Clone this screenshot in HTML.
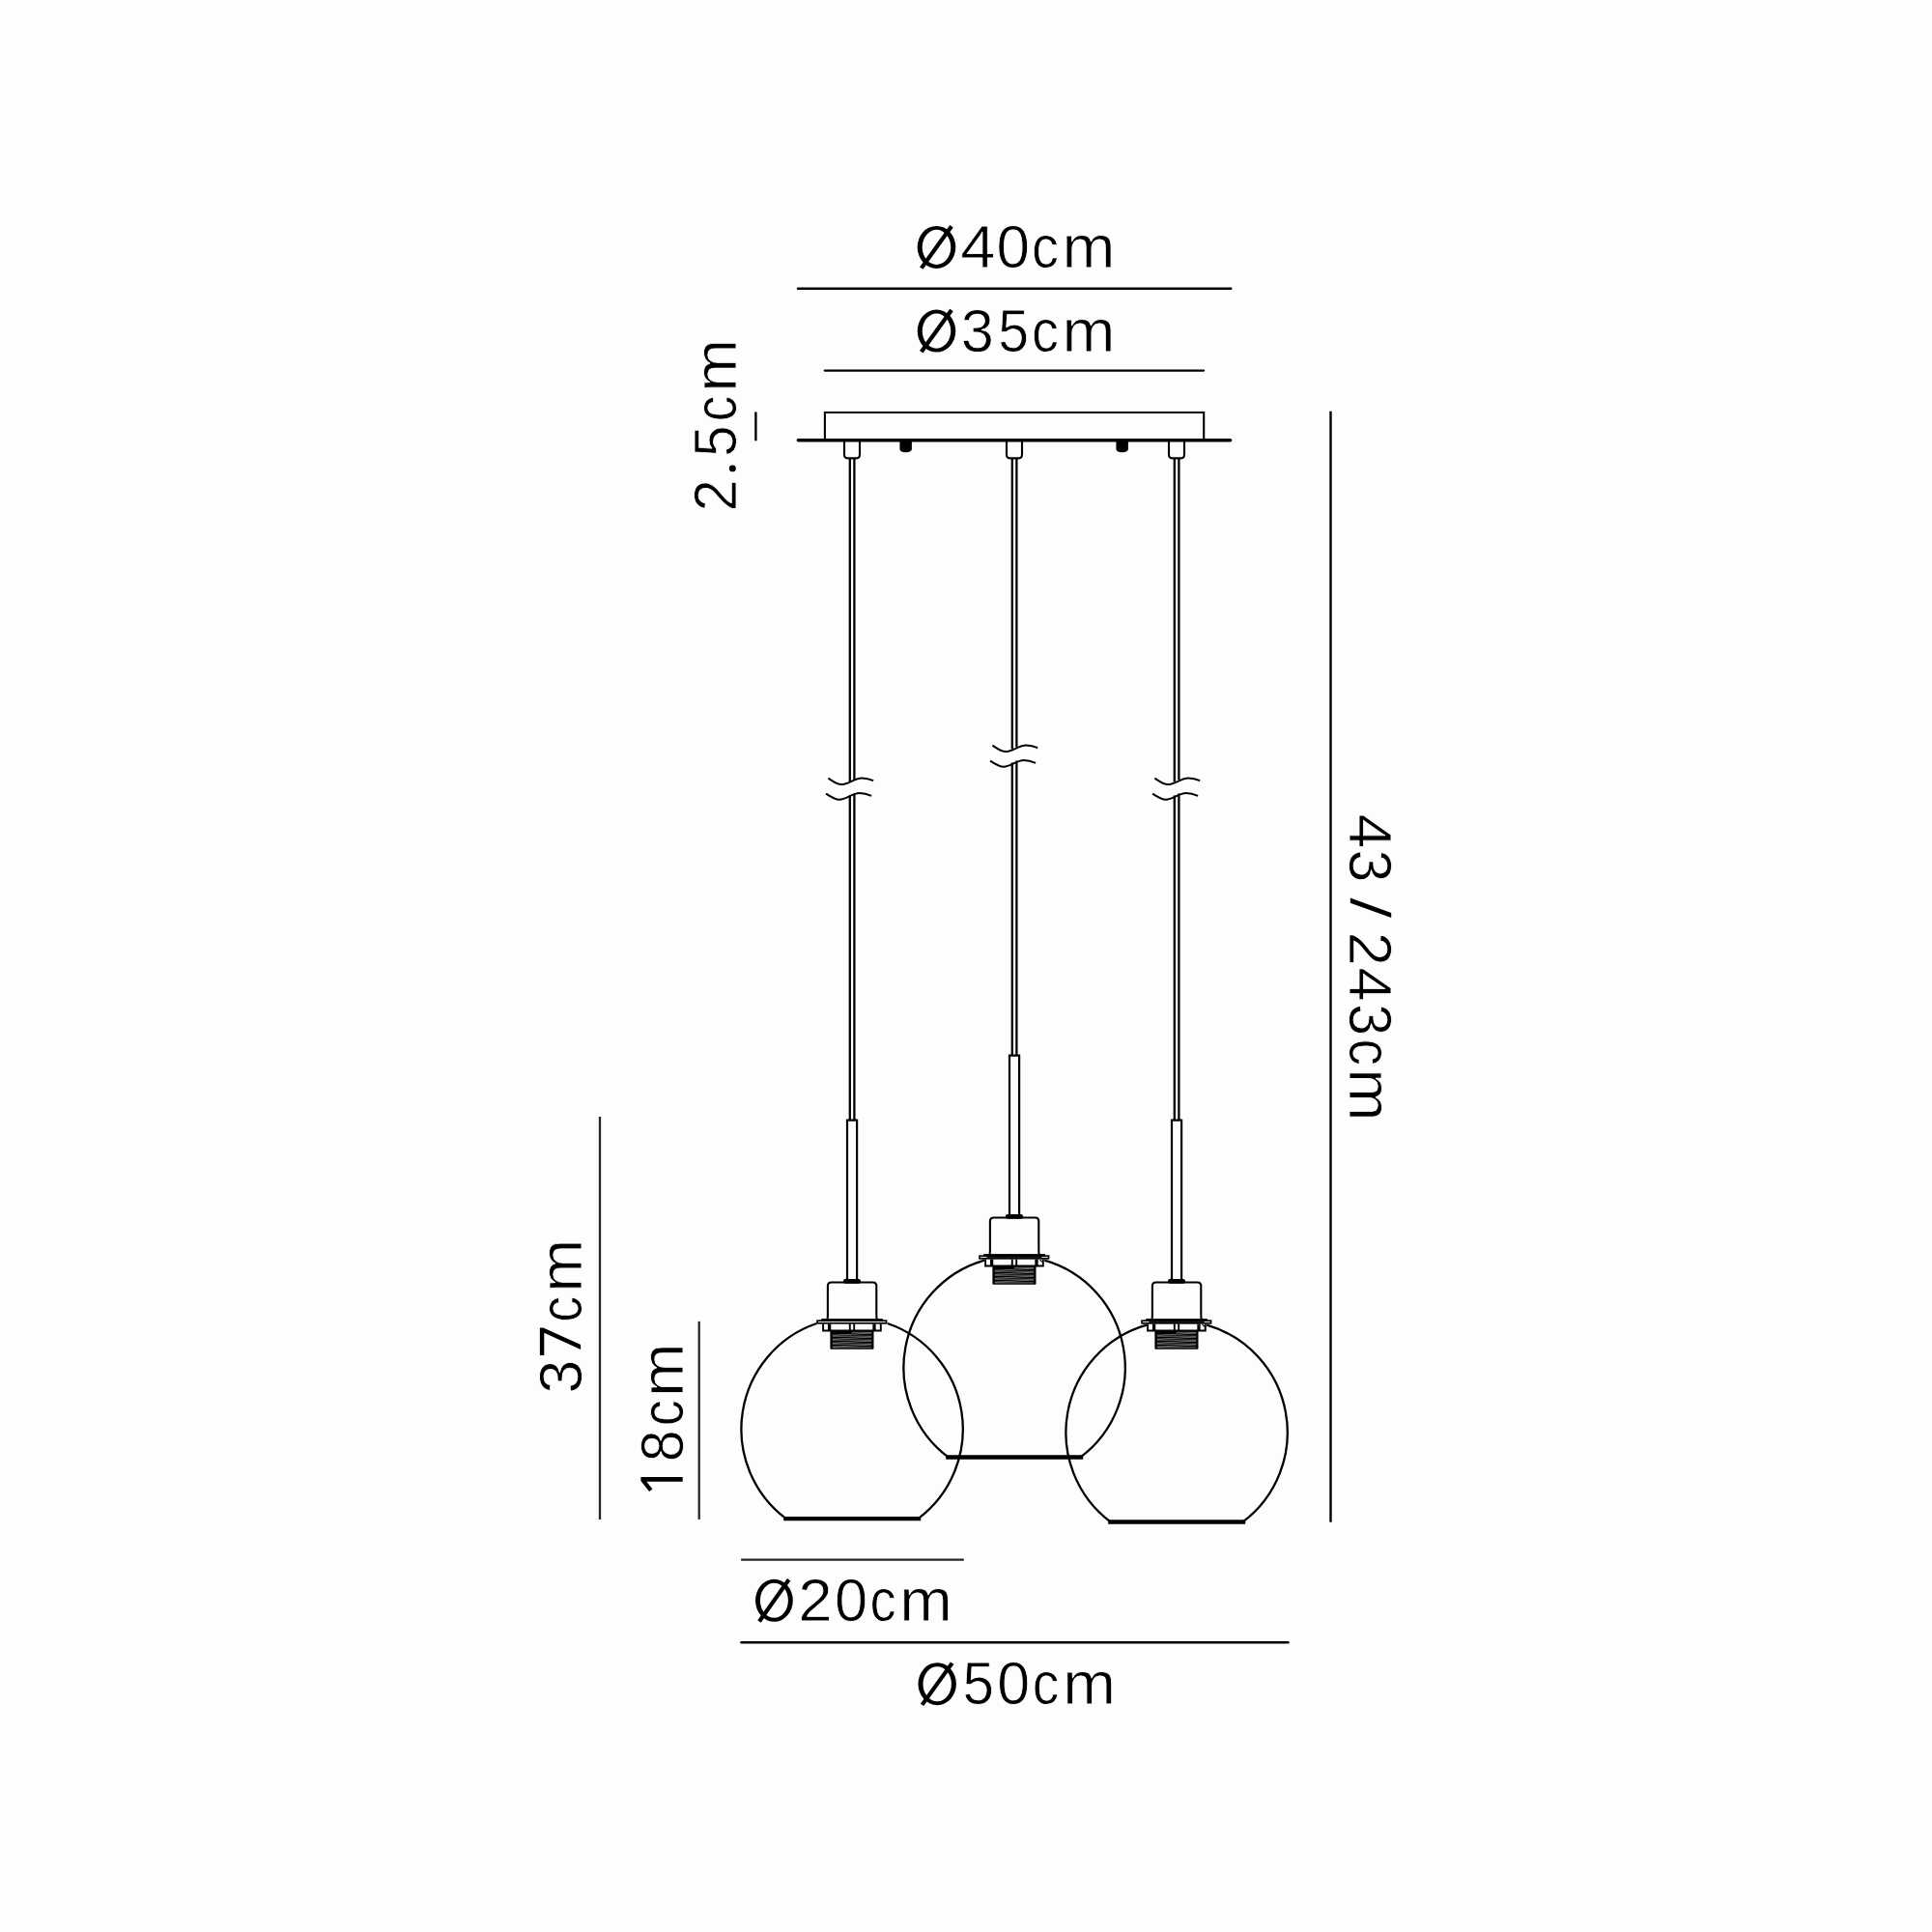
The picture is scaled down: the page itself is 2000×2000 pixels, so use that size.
<!DOCTYPE html>
<html>
<head>
<meta charset="utf-8">
<title>Pendant dimensions</title>
<style>
html,body{margin:0;padding:0;background:#fdfdfd;}
body{width:2000px;height:2000px;overflow:hidden;}
svg{display:block;}
text{font-family:"Liberation Sans",sans-serif;fill:#000;}
</style>
</head>
<body>
<svg width="2000" height="2000" viewBox="0 0 2000 2000">
<rect x="0" y="0" width="2000" height="2000" fill="#fdfdfd"/>
<defs>
  <!-- lamp holder, drawn in left-lamp absolute coordinates (cx = 882.1) -->
  <g id="holder" fill="none" stroke="#000">
    <!-- rod -->
    <path d="M877,1326 V1159.6 H887.1 V1326" stroke-width="2.2" stroke-linejoin="miter"/>
    <!-- black cap -->
    <rect x="872.9" y="1324" width="18.2" height="4.7" rx="2.3" fill="#000" stroke="none"/>
    <!-- cup -->
    <path d="M856.4,1366 Q856.9,1364 856.9,1361 V1331.2 Q856.9,1327.5 860.6,1327.5 H903.6 Q907.3,1327.5 907.3,1331.2 V1361 Q907.3,1364 907.8,1366" stroke-width="2.1"/>
    <!-- thick flange line -->
    <rect x="850.1" y="1365.1" width="63.8" height="2.6" fill="#000" stroke="none"/>
    <!-- plate -->
    <rect x="846.05" y="1367.2" width="71.5" height="2.6" stroke-width="1.7"/>
    <!-- bracket ring -->
    <path d="M852.1,1370.6 V1377.5 H911.8 V1370.6" stroke-width="1.9"/>
    <path d="M858.6,1370.6 V1377.5 M905,1370.6 V1377.5" stroke-width="3.3"/>
    <path d="M879.8,1370.6 V1377.5 M884.2,1370.6 V1377.5" stroke-width="1.9"/>
    <!-- thread -->
    <rect x="859.4" y="1377.6" width="45.1" height="19.1" rx="1" fill="#000" stroke="none"/>
    <g stroke="#dcdcdc" stroke-width="0.5">
      <path d="M861.8,1383.20 H902.2 M861.8,1387.20 H902.2 M861.8,1391.20 H902.2 M861.8,1394.90 H902.2 M882,1379.3 H902.2"/>
      <path d="M861.8,1382.30 L902.2,1380.10 M861.8,1386.30 L902.2,1384.10 M861.8,1390.30 L902.2,1388.10 M861.8,1394.20 L902.2,1392.00"/>
    </g>
  </g>
  <!-- globe in left-lamp coordinates with cy = 1483.4 (middle/right); left is shifted up -->
  <g id="globe" fill="none" stroke="#000">
    <path d="M845.5,1373.4 A114.7,115.46 0 0 0 813.7,1575.5" stroke-width="2.3"/>
    <path d="M918.7,1373.4 A114.7,115.46 0 0 1 950.5,1575.5" stroke-width="2.3"/>
    <path d="M811.2,1575.5 H953.2" stroke-width="4.4"/>
  </g>
  <g id="globeF" fill="none" stroke="#000">
    <path d="M851.0,1371.7 A114.7,115.46 0 0 0 813.7,1575.5" stroke-width="2.3"/>
    <path d="M913.2,1371.7 A114.7,115.46 0 0 1 950.5,1575.5" stroke-width="2.3"/>
    <path d="M811.2,1575.5 H953.2" stroke-width="4.4"/>
    <path d="M853.5,1368.5 H910.7" stroke-width="1" stroke="#1c1c1c"/>
    <path d="M908.6,1371.2 L911,1373.4" stroke-width="1.2"/>
  </g>
  <g id="wave" fill="none" stroke="#000" stroke-width="2" stroke-linecap="butt">
    <path d="M857.4,805.7 C863,809.5 866.5,812.1 871.1,812.1 C878,812.1 885,805.5 892.2,805.5 C897,805.5 901,806.8 904.2,808.2"/>
    <path d="M855.1,821.6 C860.5,825.2 864.5,827.8 869,827.8 C876,827.8 882.5,821 889.7,821 C894.5,821 899,822.5 902.1,823.9"/>
  </g>
</defs>

<!-- ceiling plate -->
<g fill="none" stroke="#000">
  <path d="M853.9,455 V427 H1246.2 V455" stroke-width="2.1" stroke-linejoin="miter"/>
  <path d="M826.3,455.7 H1273.6" stroke-width="3.4" stroke-linecap="round"/>
  <!-- black bumps -->
  <path d="M931.4,456 H943.9 V464.5 Q943.9,468.3 937.65,468.3 Q931.4,468.3 931.4,464.5 Z" fill="#000" stroke="none"/>
  <path d="M1155.4,456 H1167.9 V464.5 Q1167.9,468.3 1161.65,468.3 Q1155.4,468.3 1155.4,464.5 Z" fill="#000" stroke="none"/>
</g>

<!-- connectors + wires -->
<g id="wires" fill="none" stroke="#000">
  <!-- left -->
  <path d="M874,457 V470.4 Q874,474.4 878,474.4 H886 Q890,474.4 890,470.4 V457" stroke-width="2.1"/>
  <path d="M879.8,475 V809.6 M884.4,475 V807.4 M879.8,823.6 V1159 M884.4,821.6 V1159" stroke-width="2.3"/>
  <!-- middle -->
  <path d="M1042,457 V470.4 Q1042,474.4 1046,474.4 H1054 Q1058,474.4 1058,470.4 V457" stroke-width="2.1"/>
  <path d="M1047.8,475 V775.6 M1052.4,475 V773.4 M1047.8,789.6 V1092 M1052.4,787.6 V1092" stroke-width="2.3"/>
  <!-- right -->
  <path d="M1210,457 V470.4 Q1210,474.4 1214,474.4 H1222 Q1226,474.4 1226,470.4 V457" stroke-width="2.1"/>
  <path d="M1215.8,475 V809.6 M1220.4,475 V807.4 M1215.8,823.6 V1159 M1220.4,821.6 V1159" stroke-width="2.3"/>
</g>
<use href="#wave"/>
<use href="#wave" transform="translate(170,-34)"/>
<use href="#wave" transform="translate(338,0)"/>

<!-- lamps -->
<use href="#holder"/>
<use href="#globe" transform="translate(0,-3.4)"/>
<use href="#holder" transform="translate(168,-67)"/>
<use href="#globeF" transform="translate(168,-67)"/>
<use href="#holder" transform="translate(336,0)"/>
<use href="#globeF" transform="translate(336,0)"/>

<!-- dimension lines -->
<g fill="none" stroke="#000" stroke-width="2.4" stroke-linecap="round">
  <path d="M826,298.8 H1274.2"/>
  <path d="M853.9,383.6 H1245.9"/>
  <path d="M782.4,427.4 V455.2"/>
  <path d="M1377.5,426.6 V1574.7"/>
  <path d="M767.4,1700.3 H1333.5"/>
</g>
<g fill="none" stroke="#2a2422" stroke-width="2.3">
  <path d="M621,1156 V1572.9"/>
  <path d="M723.7,1367.9 V1572.9"/>
  <path d="M767.1,1614.6 H997.8"/>
</g>

<!-- LABELS-BEGIN -->
<g font-size="62.5" stroke="#fdfdfd" stroke-width="0.8" stroke-linejoin="round">
<g id="t40" transform="translate(0,277.10)">
<path transform="translate(949.70,-0.40) scale(1.015,-1)" d="M0,20.8 a19.5,22 0 1,0 39,0 a19.5,22 0 1,0 -39,0 Z M4.95,20.8 a14.55,18.05 0 1,0 29.1,0 a14.55,18.05 0 1,0 -29.1,0 Z" fill="#000" fill-rule="evenodd" stroke="none"/>
<path transform="translate(949.70,-0.40) scale(1.015,-1)" d="M5.71,-2.12 L36.51,41.18 L33.09,43.62 L2.29,0.32 Z" fill="#000" fill-rule="evenodd" stroke="none"/>
<text transform="translate(1012.20,0) scale(1.044,1)" x="-17.19" y="0">4</text>
<text transform="translate(1048.65,0) scale(0.994,1)" x="-17.34" y="0">0</text>
<text transform="translate(1082.45,0) scale(0.894,1)" x="-16.25" y="0">c</text>
<text transform="translate(1126.85,0) scale(1.055,1)" x="-25.94" y="0">m</text>
</g>
<g id="t35" transform="translate(0,363.80)">
<path transform="translate(949.70,-0.40) scale(1.015,-1)" d="M0,20.8 a19.5,22 0 1,0 39,0 a19.5,22 0 1,0 -39,0 Z M4.95,20.8 a14.55,18.05 0 1,0 29.1,0 a14.55,18.05 0 1,0 -29.1,0 Z" fill="#000" fill-rule="evenodd" stroke="none"/>
<path transform="translate(949.70,-0.40) scale(1.015,-1)" d="M5.71,-2.12 L36.51,41.18 L33.09,43.62 L2.29,0.32 Z" fill="#000" fill-rule="evenodd" stroke="none"/>
<text transform="translate(1011.50,0) scale(0.980,1)" x="-17.19" y="0">3</text>
<text transform="translate(1049.10,0) scale(0.914,1)" x="-17.34" y="0">5</text>
<text transform="translate(1082.45,0) scale(0.894,1)" x="-16.25" y="0">c</text>
<text transform="translate(1126.85,0) scale(1.055,1)" x="-25.94" y="0">m</text>
</g>
<g id="t20" transform="translate(0,1678.00)">
<path transform="translate(782.00,-0.40) scale(0.995,-1)" d="M0,20.8 a19.5,22 0 1,0 39,0 a19.5,22 0 1,0 -39,0 Z M4.95,20.8 a14.55,18.05 0 1,0 29.1,0 a14.55,18.05 0 1,0 -29.1,0 Z" fill="#000" fill-rule="evenodd" stroke="none"/>
<path transform="translate(782.00,-0.40) scale(0.995,-1)" d="M5.71,-2.12 L36.51,41.18 L33.09,43.62 L2.29,0.32 Z" fill="#000" fill-rule="evenodd" stroke="none"/>
<text transform="translate(843.95,0) scale(1.017,1)" x="-17.34" y="0">2</text>
<text transform="translate(881.00,0) scale(0.983,1)" x="-17.34" y="0">0</text>
<text transform="translate(914.70,0) scale(0.867,1)" x="-16.25" y="0">c</text>
<text transform="translate(958.50,0) scale(1.048,1)" x="-25.94" y="0">m</text>
</g>
<g id="t50" transform="translate(0,1764.40)">
<path transform="translate(950.50,-0.40) scale(1.010,-1)" d="M0,20.8 a19.5,22 0 1,0 39,0 a19.5,22 0 1,0 -39,0 Z M4.95,20.8 a14.55,18.05 0 1,0 29.1,0 a14.55,18.05 0 1,0 -29.1,0 Z" fill="#000" fill-rule="evenodd" stroke="none"/>
<path transform="translate(950.50,-0.40) scale(1.010,-1)" d="M5.71,-2.12 L36.51,41.18 L33.09,43.62 L2.29,0.32 Z" fill="#000" fill-rule="evenodd" stroke="none"/>
<text transform="translate(1012.80,0) scale(0.935,1)" x="-17.34" y="0">5</text>
<text transform="translate(1049.10,0) scale(0.976,1)" x="-17.34" y="0">0</text>
<text transform="translate(1083.10,0) scale(0.882,1)" x="-16.25" y="0">c</text>
<text transform="translate(1127.50,0) scale(1.052,1)" x="-25.94" y="0">m</text>
</g>
<g id="t25" transform="translate(761.90,0) rotate(-90)">
<text transform="translate(-512.90,0) scale(0.955,1)" x="-17.34" y="0">2</text>
<path transform="translate(-488.30,-0.40) scale(0.971,-1)" d="M0,3.2 a3.5,3.5 0 1,0 7,0 a3.5,3.5 0 1,0 -7,0 Z" fill="#000" fill-rule="evenodd" stroke="none"/>
<text transform="translate(-456.70,0) scale(0.928,1)" x="-17.34" y="0">5</text>
<text transform="translate(-422.50,0) scale(0.851,1)" x="-16.25" y="0">c</text>
<text transform="translate(-378.60,0) scale(1.052,1)" x="-25.94" y="0">m</text>
</g>
<g id="t37" transform="translate(601.50,0) rotate(-90)">
<text transform="translate(-1425.40,0) scale(1.001,1)" x="-17.19" y="0">3</text>
<path transform="translate(-1402.90,-0.40) scale(1.018,-1)" d="M0,42.2 H28 V38.7 L10.7,0 H5.8 L22.8,37.8 H0 Z" fill="#000" fill-rule="evenodd" stroke="none"/>
<text transform="translate(-1354.85,0) scale(0.863,1)" x="-16.25" y="0">c</text>
<text transform="translate(-1310.40,0) scale(1.057,1)" x="-25.94" y="0">m</text>
</g>
<g id="t18" transform="translate(707.10,0) rotate(-90)">
<path transform="translate(-1544.00,-0.40) scale(1.000,-1)" d="M10.3,0 H15 V43.3 H11.1 L0,34.6 L2.5,31.2 L10.3,37.4 Z" fill="#000" fill-rule="evenodd" stroke="none"/>
<text transform="translate(-1496.70,0) scale(0.945,1)" x="-17.50" y="0">8</text>
<text transform="translate(-1462.20,0) scale(0.867,1)" x="-16.25" y="0">c</text>
<text transform="translate(-1418.30,0) scale(1.066,1)" x="-25.94" y="0">m</text>
</g>
<g id="t43" transform="translate(1397.40,0) rotate(90)">
<text transform="translate(860.15,0) scale(1.028,1)" x="-17.19" y="0">4</text>
<text transform="translate(896.35,0) scale(0.976,1)" x="-17.19" y="0">3</text>
<path transform="translate(929.50,-0.40) scale(1.000,-1)" d="M0,0 H5.3 L20.4,42.4 H15.4 Z" fill="#000" fill-rule="evenodd" stroke="none"/>
<text transform="translate(982.40,0) scale(1.013,1)" x="-17.34" y="0">2</text>
<text transform="translate(1019.00,0) scale(1.011,1)" x="-17.19" y="0">4</text>
<text transform="translate(1055.40,0) scale(0.945,1)" x="-17.19" y="0">3</text>
<text transform="translate(1089.65,0) scale(0.878,1)" x="-16.25" y="0">c</text>
<text transform="translate(1133.20,0) scale(1.043,1)" x="-25.94" y="0">m</text>
</g>
</g>
<!-- LABELS-END -->
</svg>
</body>
</html>
